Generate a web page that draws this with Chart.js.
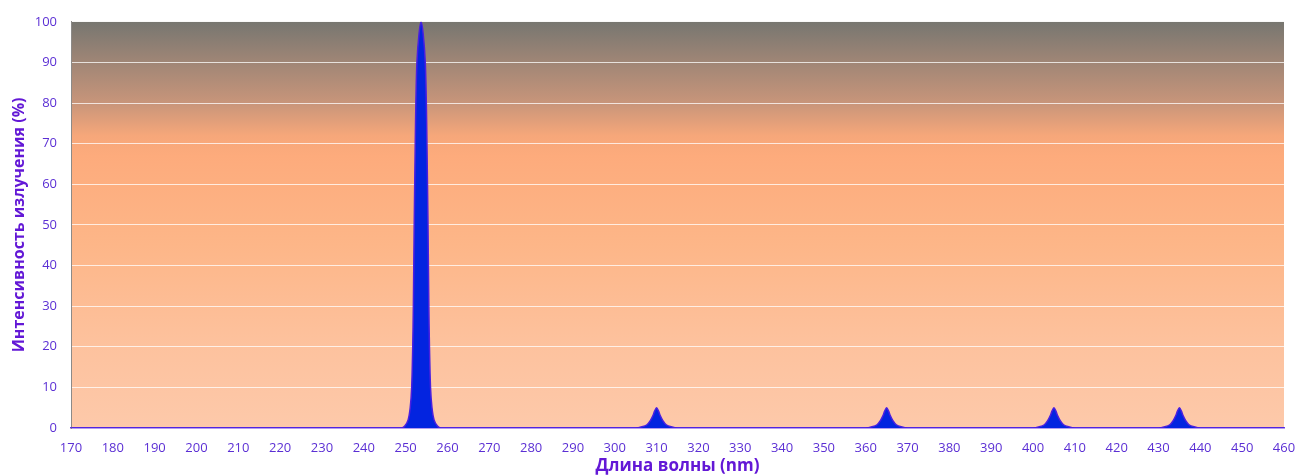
<!DOCTYPE html>
<html>
<head>
<meta charset="utf-8">
<script src="https://cdn.jsdelivr.net/npm/chart.js@4/dist/chart.umd.min.js"></script>
<style>
  html, body { margin: 0; padding: 0; background: #ffffff; }
  #wrap { width: 1296px; height: 476px; }
</style>
</head>
<body>
<div id="wrap"><canvas id="spectrum"></canvas></div>
<script>
// Длина волны (nm) и интенсивность (%)
const wavelengths = [
    170, 249, 249.8, 250.6, 251.1, 251.45, 251.7, 251.85, 252.05, 252.3, 252.45, 252.7, 253.2, 253.7,
    254.2, 254.7, 254.95, 255.1, 255.35, 255.55, 255.7, 255.95, 256.3, 256.8, 257.6, 258.4,
    305, 306.5, 307.7, 308.5, 309.1, 309.55, 310, 310.45, 310.9, 311.5, 312.3, 313.5, 315,
    360, 361.5, 362.7, 363.5, 364.1, 364.55, 365, 365.45, 365.9, 366.5, 367.3, 368.5, 370,
    400, 401.5, 402.7, 403.5, 404.1, 404.55, 405, 405.45, 405.9, 406.5, 407.3, 408.5, 410,
    430, 431.5, 432.7, 433.5, 434.1, 434.55, 435, 435.45, 435.9, 436.5, 437.3, 438.5, 440,
    460
];
const intensity = [
    0, 0, 0.5, 2, 5, 10, 20, 30, 50, 70, 80, 90, 97, 100,
    97, 90, 80, 70, 50, 30, 20, 10, 5, 2, 0.5, 0,
    0, 0.3, 0.8, 1.8, 3, 4.2, 5, 4.2, 3, 1.8, 0.8, 0.3, 0,
    0, 0.3, 0.8, 1.8, 3, 4.2, 5, 4.2, 3, 1.8, 0.8, 0.3, 0,
    0, 0.3, 0.8, 1.8, 3, 4.2, 5, 4.2, 3, 1.8, 0.8, 0.3, 0,
    0, 0.3, 0.8, 1.8, 3, 4.2, 5, 4.2, 3, 1.8, 0.8, 0.3, 0,
    0
];
const xTickMin = 170, xTickMax = 460, xStep = 10;
const yTickMin = 0, yTickMax = 100, yStep = 10;
const xTitle = 'Длина волны (nm)';
const yTitle = 'Интенсивность излучения (%)';

const tickColor = '#5b2fd4';
const titleColor = '#6318d6';

// фон области графика — градиент
const plotBackground = {
    id: 'plotBackground',
    beforeDraw(chart) {
        const { ctx, chartArea: a } = chart;
        const g = ctx.createLinearGradient(0, a.top, 0, a.bottom);
        g.addColorStop(0, '#777670');
        g.addColorStop(0.1, '#a08676');
        g.addColorStop(0.2, '#c8957a');
        g.addColorStop(0.28, '#f6a77a');
        g.addColorStop(0.33, '#fdab7c');
        g.addColorStop(0.55, '#fdb688');
        g.addColorStop(0.8, '#fdc29e');
        g.addColorStop(1, '#fdc9aa');
        ctx.save();
        ctx.fillStyle = g;
        ctx.fillRect(a.left, a.top, a.right - a.left, a.bottom - a.top);
        ctx.restore();
    }
};

const points = wavelengths.map((w, i) => ({ x: w, y: intensity[i] }));

new Chart(document.getElementById('spectrum').getContext('2d'), {
    type: 'line',
    data: {
        datasets: [{
            data: points,
            borderColor: '#4a1fe0',
            borderWidth: 1.5,
            backgroundColor: '#0324e0',
            fill: 'origin',
            pointRadius: 0,
            tension: 0.3
        }]
    },
    options: {
        responsive: true,
        maintainAspectRatio: false,
        animation: false,
        layout: { padding: { left: 10, right: 12, top: 20, bottom: 0 } },
        plugins: {
            legend: { display: false },
            tooltip: { enabled: false }
        },
        scales: {
            x: {
                type: 'linear',
                min: xTickMin,
                max: xTickMax,
                // засечки не рисуются, tickLength только отодвигает подписи
                grid: { display: false, drawTicks: true, tickLength: 12 },
                border: { color: '#6a3ce0', width: 1.5 },
                ticks: {
                    stepSize: xStep,
                    padding: 0,
                    color: tickColor,
                    font: { family: 'Open Sans', size: 13 },
                    maxRotation: 0,
                    autoSkip: false
                },
                title: {
                    display: true,
                    text: xTitle,
                    color: titleColor,
                    font: { family: 'Open Sans', size: 17, weight: 'bold' },
                    padding: { top: 0, bottom: 0 }
                },
                afterFit(scale) { scale.height = 48; }
            },
            y: {
                min: yTickMin,
                max: yTickMax,
                grid: { color: 'rgba(255,255,255,0.75)', lineWidth: 1, drawTicks: false },
                border: { color: '#8c8a88', width: 1 },
                ticks: {
                    stepSize: yStep,
                    padding: 14,
                    color: tickColor,
                    font: { family: 'Open Sans', size: 13 }
                },
                title: {
                    display: true,
                    text: yTitle,
                    color: titleColor,
                    font: { family: 'Open Sans', size: 16, weight: 'bold' },
                    padding: { top: 0, bottom: 2 }
                },
                afterFit(scale) { scale.width = 61; }
            }
        }
    },
    plugins: [plotBackground]
});
</script>
</body>
</html>
